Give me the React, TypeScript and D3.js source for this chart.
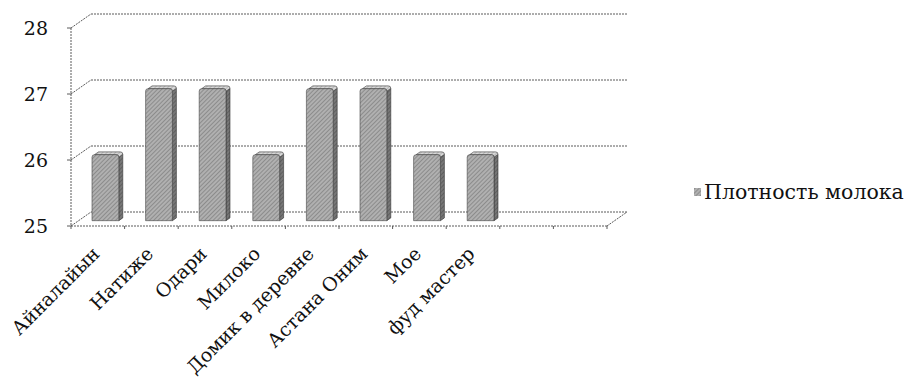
import React from "react";
import * as d3 from "d3";

// Milk density by brand
const categories = ["Айналайын", "Натиже", "Одари", "Милоко", "Домик в деревне", "Астана Оним", "Мое", "фуд мастер"];
const values = [26, 27, 27, 26, 27, 27, 26, 26];
const yTicks = [25, 26, 27, 28];
const slotCount = 10; // the category axis reserves two empty slots on the right
const seriesName = "Плотность молока";

const W = 912;
const H = 382;
const FONT = "'DejaVu Serif', 'Liberation Serif', serif";

// front plane of the 3D box
const x0 = 71;
const x1 = 607;
// depth offset of the back wall
const DX = 20;
const DY = -14;

export default function App() {
  const x = d3.scaleBand<number>().domain(d3.range(slotCount)).range([x0, x1]).paddingInner(0).paddingOuter(0);
  const y = d3.scaleLinear().domain([25, 28]).range([226, 28]);

  const grid = "#5a5a5a";
  const dash = "2 1";

  const barW = x.bandwidth() * 0.5;
  const depthFront = 0.38;
  const depthBack = 0.58;

  return (
    <svg width={W} height={H} style={{ position: "absolute", left: 0, top: 0, background: "#fff", fontFamily: FONT }}>
      <defs>
        <pattern id="frontHatch" width="3" height="3" patternUnits="userSpaceOnUse" patternTransform="rotate(45)">
          <rect width="3" height="3" fill="#b0b0b0" />
          <line x1="0" y1="0" x2="0" y2="3" stroke="#6e6e6e" strokeWidth="1.1" />
        </pattern>
        <pattern id="sideHatch" width="3" height="3" patternUnits="userSpaceOnUse" patternTransform="rotate(45)">
          <rect width="3" height="3" fill="#777" />
          <line x1="0" y1="0" x2="0" y2="3" stroke="#4a4a4a" strokeWidth="1.1" />
        </pattern>
        <pattern id="topHatch" width="3" height="3" patternUnits="userSpaceOnUse" patternTransform="rotate(45)">
          <rect width="3" height="3" fill="#d8d8d8" />
          <line x1="0" y1="0" x2="0" y2="3" stroke="#9a9a9a" strokeWidth="1" />
        </pattern>
      </defs>

      {/* back wall gridlines and left wall diagonals */}
      {yTicks.map((t) => (
        <g key={`g${t}`} stroke={grid} strokeWidth={1} strokeDasharray={dash} fill="none">
          <line x1={x0 + DX} y1={y(t) + DY} x2={x1 + DX} y2={y(t) + DY} />
          <line x1={x0} y1={y(t)} x2={x0 + DX} y2={y(t) + DY} />
        </g>
      ))}

      {/* value axis */}
      <line x1={x0} y1={y(28)} x2={x0} y2={y(25)} stroke={grid} strokeWidth={1} strokeDasharray={dash} />
      {yTicks.map((t) => (
        <g key={`yt${t}`}>
          <line x1={x0 - 4} y1={y(t)} x2={x0} y2={y(t)} stroke={grid} />
          <text x={48} y={y(t)} textAnchor="end" dominantBaseline="central" fontSize={19} fill="#111" style={{ fontFamily: FONT }}>
            {t}
          </text>
        </g>
      ))}

      {/* floor front edge and right diagonal */}
      <line x1={x0} y1={y(25)} x2={x1} y2={y(25)} stroke={grid} strokeWidth={1} strokeDasharray={dash} />
      <line x1={x1} y1={y(25)} x2={x1 + DX} y2={y(25) + DY} stroke={grid} strokeWidth={1} strokeDasharray={dash} />
      {d3.range(slotCount + 1).map((i) => {
        const tx = x0 + i * x.step();
        return <line key={`xt${i}`} x1={tx} y1={y(25)} x2={tx} y2={y(25) + 3} stroke={grid} />;
      })}

      {/* columns */}
      {values.map((v, i) => {
        const cx = (x(i) as number) + x.bandwidth() / 2;
        const fx = cx + DX * depthFront - barW / 2;
        const fyOff = DY * depthFront;
        const sdx = DX * (depthBack - depthFront);
        const sdy = DY * (depthBack - depthFront);
        const top = y(v) + fyOff;
        const bot = y(25) + fyOff;
        const r = 2.5;
        const front = `M${fx},${bot} L${fx},${top + r} Q${fx},${top} ${fx + r},${top} L${fx + barW - r},${top} Q${fx + barW},${top} ${fx + barW},${top + r} L${fx + barW},${bot} Z`;
        const side = `M${fx + barW},${top + r} L${fx + barW + sdx},${top + sdy + r} L${fx + barW + sdx},${bot + sdy} L${fx + barW},${bot} Z`;
        const topFace = `M${fx + r},${top} L${fx + r + sdx},${top + sdy} L${fx + barW - r + sdx},${top + sdy} Q${fx + barW + sdx},${top + sdy} ${fx + barW + sdx},${top + sdy + r} L${fx + barW},${top + r} Q${fx + barW},${top} ${fx + barW - r},${top} Z`;
        return (
          <g key={`b${i}`}>
            <path d={side} fill="url(#sideHatch)" stroke="#333" strokeWidth={0.6} />
            <path d={topFace} fill="url(#topHatch)" stroke="#333" strokeWidth={0.6} />
            <path d={front} fill="url(#frontHatch)" stroke="#444" strokeWidth={0.6} />
          </g>
        );
      })}

      {/* category labels */}
      {categories.map((c, i) => {
        const cx = (x(i) as number) + x.bandwidth() / 2;
        return (
          <text
            key={`c${i}`}
            transform={`translate(${cx - 2},${250}) rotate(-45)`}
            textAnchor="end"
            dominantBaseline="central"
            fontSize={19}
            fill="#111"
            style={{ fontFamily: FONT }}
          >
            {c}
          </text>
        );
      })}

      {/* legend */}
      <rect x={694} y={188} width={7} height={8} fill="url(#frontHatch)" />
      <text x={704} y={192} dominantBaseline="central" fontSize={20.5} fill="#111" style={{ fontFamily: FONT }}>
        {seriesName}
      </text>
    </svg>
  );
}
